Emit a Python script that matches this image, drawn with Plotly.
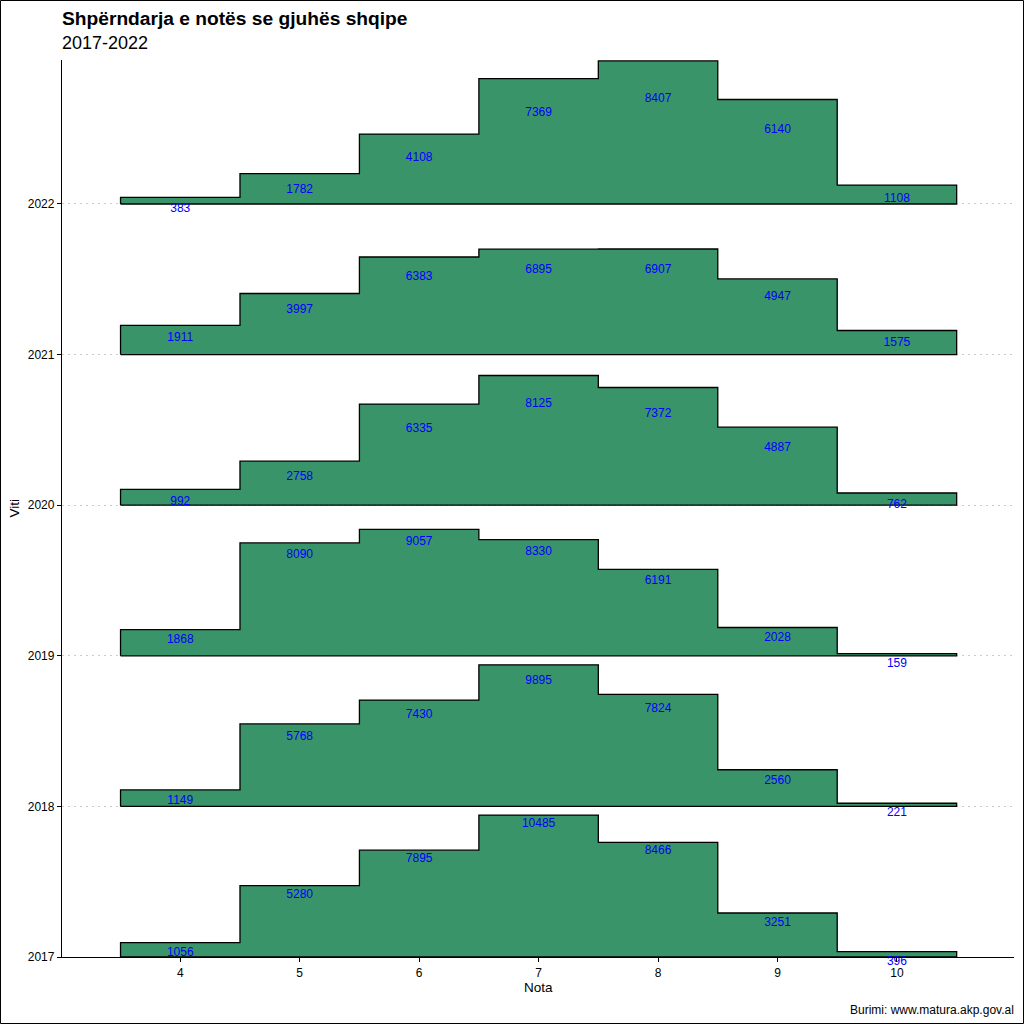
import plotly.graph_objects as go

years = [2017, 2018, 2019, 2020, 2021, 2022]
grades = [4, 5, 6, 7, 8, 9, 10]
counts = {
    2017: [1056, 5280, 7895, 10485, 8466, 3251, 396],
    2018: [1149, 5768, 7430, 9895, 7824, 2560, 221],
    2019: [1868, 8090, 9057, 8330, 6191, 2028, 159],
    2020: [992, 2758, 6335, 8125, 7372, 4887, 762],
    2021: [1911, 3997, 6383, 6895, 6907, 4947, 1575],
    2022: [383, 1782, 4108, 7369, 8407, 6140, 1108],
}

FILL = "#3A9469"
FONT = "Liberation Sans, Arial, sans-serif"
K = 3.31          # ridge scale applied to density
LABEL_DIV = 11000.0

fig = go.Figure()

# ridges: top first so lower ones are drawn over
for yr in reversed(years):
    c = counts[yr]
    tot = sum(c)
    xs, ys = [grades[0] - 0.5], [yr]
    for g, n in zip(grades, c):
        h = yr + n / tot * K
        xs += [g - 0.5, g + 0.5]
        ys += [h, h]
    xs += [grades[-1] + 0.5, grades[0] - 0.5]
    ys += [yr, yr]
    fig.add_trace(go.Scatter(x=xs, y=ys, mode="lines", fill="toself",
                             fillcolor=FILL, line=dict(color="black", width=1.3),
                             hoverinfo="skip", showlegend=False))

for yr in years:
    c = counts[yr]
    fig.add_trace(go.Scatter(
        x=grades, y=[yr + n / LABEL_DIV - 0.027 for n in c],
        mode="text", text=[str(n) for n in c], cliponaxis=False,
        textfont=dict(color="#0000FF", size=12, family=FONT),
        textposition="bottom center", showlegend=False, hoverinfo="skip"))

T, B, L, R = 60, 67, 62, 10
PW, PH = 1024.0 - L - R, 1024.0 - T - B

fig.update_layout(
    width=1024, height=1024,
    margin=dict(l=L, r=R, t=T, b=B),
    paper_bgcolor="white", plot_bgcolor="white",
    font=dict(family=FONT, color="black", size=12),
    showlegend=False,
)
fig.update_xaxes(range=[3.01, 10.98], tickvals=grades, ticktext=[str(g) for g in grades],
                 showgrid=False, zeroline=False, showline=True, linecolor="black", linewidth=1.3,
                 ticks="outside", ticklen=4, tickcolor="black", tickfont=dict(size=12, color="black"))
fig.update_yaxes(range=[2017, 2022.956], tickvals=years, ticktext=[str(y) for y in years],
                 showgrid=True, gridcolor="#cccccc", griddash="2px,4px", gridwidth=1,
                 zeroline=False, showline=True, linecolor="black", linewidth=1.3,
                 ticks="outside", ticklen=4, tickcolor="black", tickfont=dict(size=12, color="black"))

fig.add_annotation(text="<b>Shpërndarja e notës se gjuhës shqipe</b>", xref="paper", yref="paper",
                   x=-2 / PW, y=1 + (T - 18) / PH, xanchor="left", yanchor="middle", showarrow=False,
                   font=dict(size=19.2, family=FONT, color="black"))
fig.add_annotation(text="2017-2022", xref="paper", yref="paper",
                   x=-2 / PW, y=1 + (T - 43) / PH, xanchor="left", yanchor="middle", showarrow=False,
                   font=dict(size=18, family=FONT, color="black"))
fig.add_annotation(text="Viti", xref="paper", yref="paper", x=-(L - 14) / PW, y=0.5,
                   xanchor="center", yanchor="middle", textangle=-90, showarrow=False,
                   font=dict(size=13.5, family=FONT, color="black"))
fig.add_annotation(text="Nota", xref="paper", yref="paper", x=0.5, y=-(987 - 957) / PH,
                   xanchor="center", yanchor="middle", showarrow=False,
                   font=dict(size=13.5, family=FONT, color="black"))
fig.add_annotation(text="Burimi: www.matura.akp.gov.al", xref="paper", yref="paper",
                   x=1 + 2 / PW, y=-(1010 - 957) / PH, xanchor="right", yanchor="middle",
                   showarrow=False, font=dict(size=12, family=FONT, color="black"))
fig.add_shape(type="rect", xref="paper", yref="paper",
              x0=-(L - 0.5) / PW, x1=1 + (R - 0.5) / PW, y0=-(B - 0.5) / PH, y1=1 + (T - 0.5) / PH,
              line=dict(color="black", width=1))

fig.write_html("out.html", config={"displayModeBar": False},
               post_script="document.body.style.margin='0';document.body.style.overflow='hidden';")
